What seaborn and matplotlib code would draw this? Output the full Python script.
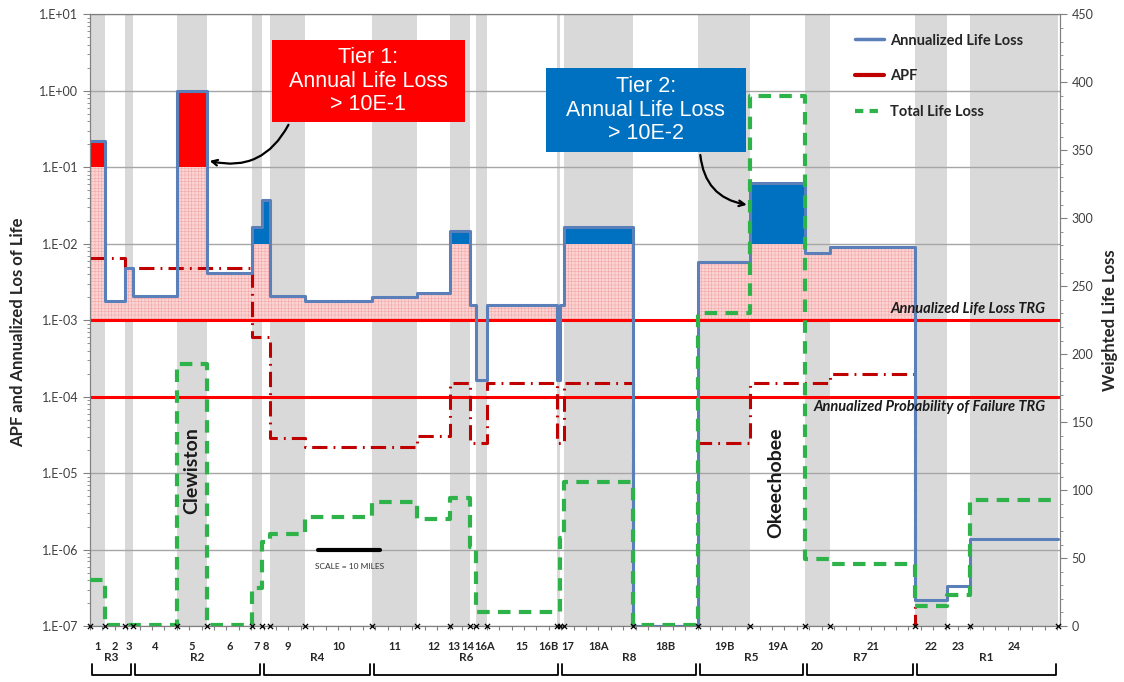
import numpy as np
import pandas as pd
import matplotlib
matplotlib.use("Agg")
import matplotlib.pyplot as plt
import matplotlib.ticker as mticker
import matplotlib.transforms as mtrans
from matplotlib.lines import Line2D
from matplotlib.patches import Rectangle
import seaborn as sns

# reach names along the dike, left to right
segments = ["1", "2", "3", "4", "5", "6", "7", "8", "9", "10", "11", "12", "13", "14",
            "16A", "15", "16B", "17", "18A", "18B", "19B", "19A", "20", "21", "22", "23", "24"]
# reach boundaries (miles)
bounds = [0.0, 2.4, 5.6, 6.9, 14.0, 18.9, 26.1, 27.7, 29.0, 34.7, 45.5, 52.7, 58.1, 61.3,
          62.3, 64.0, 75.3, 75.8, 76.5, 87.6, 98.1, 106.5, 115.3, 119.4, 133.1, 138.2, 141.9, 156.1]
# annualized life loss per reach
ann_loss = [0.22, 1.8e-3, 4.8e-3, 2.1e-3, 1.0, 4.1e-3, 0.0166, 0.037, 2.1e-3, 1.8e-3, 2.0e-3, 2.3e-3,
            0.0145, 1.6e-3, 1.65e-4, 1.6e-3, 1.65e-4, 1.6e-3, 0.0166, 1e-7, 5.7e-3, 0.062, 7.5e-3, 9.0e-3,
            2.2e-7, 3.3e-7, 1.38e-6]
# annual probability of failure per reach
apf = [6.6e-3, 6.6e-3, 4.8e-3, 4.8e-3, 4.8e-3, 4.8e-3, 6.0e-4, 6.0e-4, 2.9e-5, 2.2e-5, 2.2e-5, 3.1e-5,
       1.5e-4, 2.5e-5, 2.5e-5, 1.5e-4, 2.5e-5, 2.5e-5, 1.5e-4, 1e-7, 2.5e-5, 1.5e-4, 1.5e-4, 1.95e-4,
       1e-7, None, None]
# weighted total life loss per reach (right axis)
total_loss = [34, 1, 1, 1, 193, 1, 28, 62, 68, 80, 91, 79, 94, 58, 10, 10, 10, 65, 106, 1,
              230, 390, 49, 46, 15, 23, 93]
regions = ["R3", "R2", "R4", "R6", "R8", "R5", "R7", "R1"]
region_bounds = [0.0, 6.9, 27.7, 45.5, 75.8, 98.1, 115.3, 133.1, 156.1]
trg_loss = 1e-3
trg_apf = 1e-4
tier1 = 1e-1
tier2 = 1e-2


def steps(vals):
    x = bounds[:-1] + [bounds[-1]]
    y = list(vals) + [vals[-1]]
    return pd.DataFrame({"x": x, "y": y}).dropna()


sns.set_style("ticks")
plt.rcParams["font.family"] = ["Lato", "DejaVu Sans"]
plt.rcParams["hatch.linewidth"] = 0.3

fig = plt.figure(figsize=(11.24, 6.82), dpi=100)
ax = fig.add_axes([0.080, 0.082, 0.863, 0.897])
ax.set_yscale("log")
ax.set_xlim(0, 156.45)
ax.set_ylim(1e-7, 10)

# alternating reach shading
for i in range(0, len(segments), 2):
    ax.axvspan(bounds[i], bounds[i + 1], color="#d9d9d9", lw=0, zorder=0)

ax.set_axisbelow(True)
ax.yaxis.grid(True, which="major", color="#a6a6a6", lw=1)

# fills above the life-loss TRG
lefts = np.array(bounds[:-1])
widths = np.diff(bounds)
vals = np.array(ann_loss)
pink_top = np.where(vals > tier1, tier1, np.where(vals > tier2, tier2, vals))
m = pink_top > trg_loss
ax.bar(lefts[m], pink_top[m] - trg_loss, bottom=trg_loss, width=widths[m], align="edge",
       facecolor="#fbd3d3", edgecolor="#f19a9a", hatch="+++++", lw=0, zorder=1)
m1 = vals > tier1
ax.bar(lefts[m1], vals[m1] - tier1, bottom=tier1, width=widths[m1], align="edge",
       color="#ff0000", lw=0, zorder=1)
m2 = (vals > tier2) & (vals <= tier1)
ax.bar(lefts[m2], vals[m2] - tier2, bottom=tier2, width=widths[m2], align="edge",
       color="#0070c0", lw=0, zorder=1)

ax.axhline(trg_loss, color="#ff0000", lw=2.2, zorder=2)
ax.axhline(trg_apf, color="#ff0000", lw=2.2, zorder=2)

sns.lineplot(data=steps(apf), x="x", y="y", ax=ax, estimator=None, sort=False,
             drawstyle="steps-post", color="#c00000", lw=2.2,
             linestyle=(0, (5, 2, 0.6, 2)), zorder=3)
sns.lineplot(data=steps(ann_loss), x="x", y="y", ax=ax, estimator=None, sort=False,
             drawstyle="steps-post", color="#5b7fb8", lw=2.2, zorder=4)

ax2 = ax.twinx()
sns.lineplot(data=steps(total_loss), x="x", y="y", ax=ax2, estimator=None, sort=False,
             drawstyle="steps-post", color="#2db34a", lw=3, linestyle=(0, (3, 2)), zorder=5)
ax2.set_ylim(0, 450)
ax2.set_yticks(np.arange(0, 451, 50))
ax2.yaxis.set_minor_locator(mticker.MultipleLocator(10))

# reach boundary markers
ax2.scatter(bounds, [0] * len(bounds), marker="x", color="k", s=14, lw=0.9, clip_on=False, zorder=7)

# axes formatting
ax.yaxis.set_major_locator(mticker.LogLocator(base=10, numticks=12))
ax.yaxis.set_minor_locator(mticker.LogLocator(base=10, subs=np.arange(2, 10), numticks=12))
ax.yaxis.set_minor_formatter(mticker.NullFormatter())
ax.yaxis.set_major_formatter(mticker.FuncFormatter(lambda v, p: f"1.E{int(round(np.log10(v))):+03d}"))
ax.set_xticks(np.arange(0, 157, 2.0))
ax.tick_params(axis="x", length=3, color="#808080", labelbottom=False)
ax.tick_params(axis="y", which="major", length=5, color="#808080", labelsize=9, labelcolor="#404040")
ax.tick_params(axis="y", which="minor", length=2.5, color="#808080")
ax2.tick_params(axis="y", which="major", length=5, color="#808080", labelsize=9, labelcolor="#404040")
ax2.tick_params(axis="y", which="minor", length=2.5, color="#808080")
for a in (ax, ax2):
    for s in a.spines.values():
        s.set_color("#808080")
        s.set_linewidth(0.8)

ax.set_xlabel("")
ax2.set_xlabel("")
ax.set_ylabel("APF and Annualized Los of Life", fontsize=12, fontweight="bold")
ax.yaxis.set_label_coords(-0.066, 0.48)
ax2.set_ylabel("Weighted Life Loss", fontsize=12, fontweight="bold")
ax2.yaxis.set_label_coords(1.043, 0.5)

# reach labels and region brackets under the axis
xtrans = ax.get_xaxis_transform()
shift = {"13": -1.05, "14": -0.8, "16A": 0.45, "16B": -1.6, "17": 1.0}
for i, name in enumerate(segments):
    cx = (bounds[i] + bounds[i + 1]) / 2 + shift.get(name, 0)
    ax.text(cx, -0.033, name, transform=xtrans, ha="center", va="center",
            fontsize=8, fontweight="bold", color="#262626")
for i, name in enumerate(regions):
    a, b = region_bounds[i], region_bounds[i + 1]
    ax.plot([a + 0.3, a + 0.3, b - 0.3, b - 0.3], [-0.062, -0.080, -0.080, -0.062],
            transform=xtrans, color="k", lw=1.3, clip_on=False)
    ax.text((a + b) / 2, -0.052, name, transform=xtrans, ha="center", va="center",
            fontsize=8.5, fontweight="bold", color="#262626")

# target lines labels
ytrans = mtrans.blended_transform_factory(ax.transAxes, ax.transData)
ax.text(0.985, trg_loss * 1.12, "Annualized Life Loss TRG", transform=ytrans, ha="right",
        va="bottom", fontsize=10.5, fontweight="bold", style="italic", color="#1a1a1a", zorder=6)
ax.text(0.985, trg_apf / 1.12, "Annualized Probability of Failure TRG", transform=ytrans,
        ha="right", va="top", fontsize=10.5, fontweight="bold", style="italic", color="#1a1a1a", zorder=6)

# place names and scale bar
ax.text(0.105, 0.255, "Clewiston", transform=ax.transAxes, rotation=90, ha="center",
        va="center", fontsize=14, fontweight="bold", color="#1a1a1a")
ax.text(0.707, 0.234, "Okeechobee", transform=ax.transAxes, rotation=90, ha="center",
        va="center", fontsize=14, fontweight="bold", color="#1a1a1a")
scale_start, scale_len = 36.8, 10
ax.plot([scale_start, scale_start + scale_len], [1e-6, 1e-6], color="k", lw=3, zorder=5)
ax.text(scale_start + scale_len / 2, 6.0e-7, "SCALE = 10 MILES", ha="center", va="center",
        fontsize=6, color="#333333")

# tier call-outs
ax2.add_patch(Rectangle((0.1876, 0.8235), 0.199, 0.134, transform=ax2.transAxes,
                        color="#ff0000", lw=0, zorder=8))
ax2.text(0.2871, 0.8905, "Tier 1:\nAnnual Life Loss\n> 10E-1", transform=ax2.transAxes,
         ha="center", va="center", color="white", fontsize=15.5, family="Liberation Sans",
         linespacing=1.15, zorder=9)
ax2.annotate("", xy=(0.1206, 0.7614), xytext=(0.206, 0.8235), xycoords="axes fraction",
             arrowprops=dict(arrowstyle="->", connectionstyle="arc3,rad=-0.4", lw=1.6, color="k"),
             zorder=9)
ax2.add_patch(Rectangle((0.470, 0.7745), 0.206, 0.1373, transform=ax2.transAxes,
                        color="#0070c0", lw=0, zorder=8))
ax2.text(0.573, 0.8432, "Tier 2:\nAnnual Life Loss\n> 10E-2", transform=ax2.transAxes,
         ha="center", va="center", color="white", fontsize=15.5, family="Liberation Sans",
         linespacing=1.15, zorder=9)
ax2.annotate("", xy=(0.680, 0.688), xytext=(0.629, 0.7745), xycoords="axes fraction",
             arrowprops=dict(arrowstyle="->", connectionstyle="arc3,rad=0.4", lw=1.6, color="k"),
             zorder=9)

handles = [Line2D([], [], color="#5b7fb8", lw=2.5),
           Line2D([], [], color="#c00000", lw=3),
           Line2D([], [], color="#2db34a", lw=3, linestyle=(0, (2, 1.5)))]
ax2.legend(handles, ["Annualized Life Loss", "APF", "Total Life Loss"], loc="upper left",
           bbox_to_anchor=(0.775, 0.99), frameon=False, prop={"weight": "bold", "size": 10.5},
           labelspacing=1.5, handlelength=2.0, handletextpad=0.4)

fig.savefig("out.png", dpi=100)
